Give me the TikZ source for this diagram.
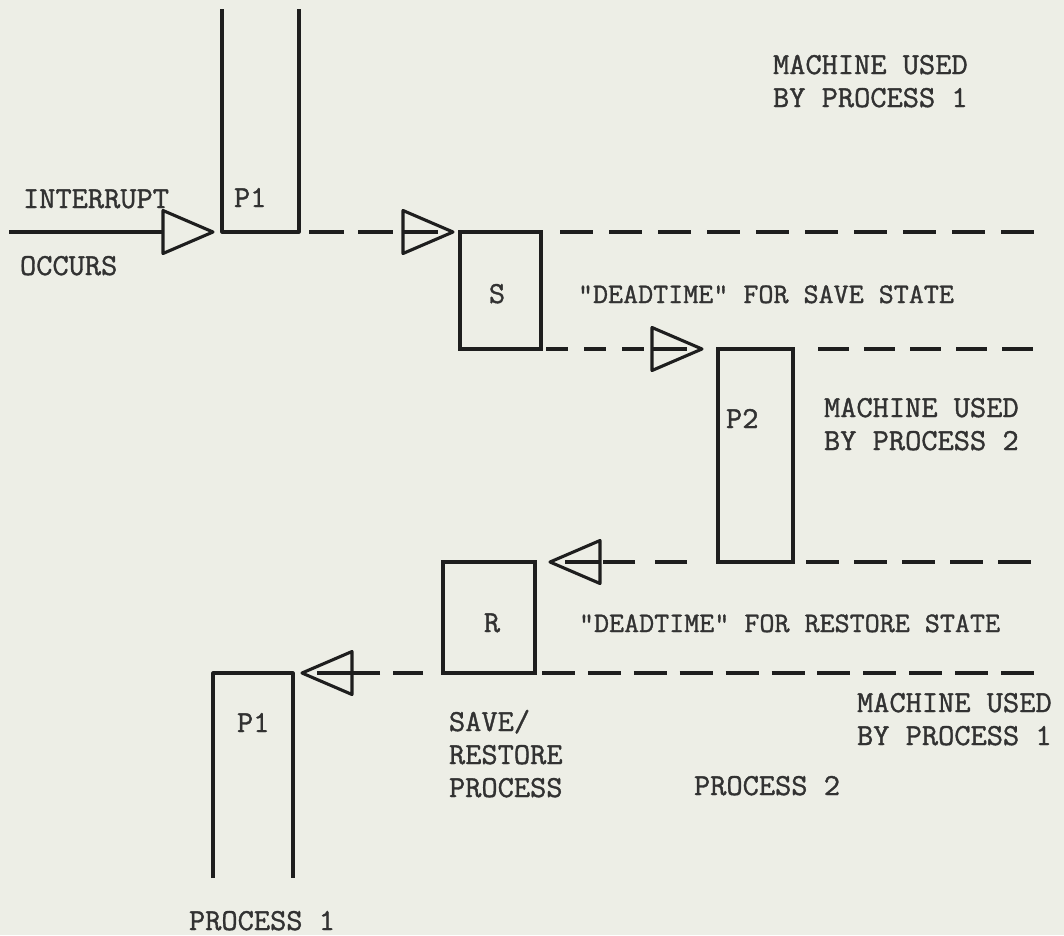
\documentclass[tikz,border=0pt]{standalone}
\usepackage{fontspec}
\usepackage{graphicx}
\newfontfamily\typew[FakeBold=1.2]{Latin Modern Mono}
\definecolor{paper}{RGB}{237,238,230}
\definecolor{ink}{RGB}{30,30,30}
\definecolor{type}{RGB}{50,50,50}
\newcommand\tyt[1]{\scalebox{1}[0.97]{#1}}
\newcommand\twoline[2]{\begin{tabular}[t]{@{}l@{}}\tyt{#1}\\\tyt{#2}\end{tabular}}
\tikzset{
  ln/.style={draw=ink, line width=3.1pt, line join=round},
  box/.style={draw=ink, line width=3.1pt, inner sep=0pt, outer sep=0pt},
  txt/.style={text=type, inner sep=0pt, outer sep=0pt, anchor=base west,
    font=\typew\fontsize{31.5pt}{33pt}\selectfont},
  txtn/.style={txt, font=\typew\fontsize{29.2pt}{33pt}\selectfont},
  tri/.pic={\draw[ln] (0,0) -- (-50,21.5) -- (-50,-21.5) -- cycle;},
  tristub/.pic={\draw[ln] (0,0) -- (-50,21.5) -- (-50,-21.5) -- cycle;
                \draw[ln] (-50,0) -- (-15,0);}
}
\begin{document}
\begin{tikzpicture}[x=1pt,y=-1pt]
\fill[paper] (0,0) rectangle (1064,935);
\useasboundingbox (0,0) rectangle (1064,935);

% open process-1 bars
\coordinate (p1tl) at (222,9);
\coordinate (p1bl) at (222,232);
\coordinate (p1br) at (299,232);
\coordinate (p1tr) at (299,9);
\draw[ln] (p1tl) -- (p1bl) -- (p1br) -- (p1tr);

\coordinate (q1bl) at (213,878);
\coordinate (q1tl) at (213,673);
\coordinate (q1tr) at (293,673);
\coordinate (q1br) at (293,878);
\draw[ln] (q1bl) -- (q1tl) -- (q1tr) -- (q1br);

% closed boxes
\node[box, minimum width=81pt, minimum height=117pt] (S) at (500.5,290.5) {};
\node[box, minimum width=75pt, minimum height=213pt] (P2) at (755.5,455.5) {};
\node[box, minimum width=92pt, minimum height=111pt] (R) at (489,617.5) {};

% interrupt arrow
\coordinate (src) at (9,232);
\coordinate (tA) at ([xshift=-9pt]p1bl);
\draw[ln] (src) -- ([xshift=-50pt]tA);
\pic at (tA) {tri};

% P1 -> S
\coordinate (tB) at ([xshift=-7pt]S.north west);
\draw[ln, dash pattern=on 35pt off 14pt] ([xshift=10pt]p1br) -- ([xshift=-50pt]tB);
\pic at (tB) {tristub};

% S top -> right edge
\coordinate (eC) at (1035,232);
\draw[ln, dash pattern=on 33pt off 16pt] ([xshift=19pt]S.north east) -- (eC);

% S -> P2
\coordinate (tD) at ([xshift=-16pt]P2.north west);
\draw[ln, dash pattern=on 22pt off 16pt] ([xshift=5pt]S.south east) -- ([xshift=-50pt]tD);
\pic at (tD) {tristub};

% P2 top -> right edge
\coordinate (eE) at (1033,349);
\draw[ln, dash pattern=on 31pt off 15pt] ([xshift=25pt]P2.north east) -- (eE);

% P2 -> R
\coordinate (tF) at ([xshift=15pt]R.north east);
\draw[ln, dash pattern=on 32pt off 20pt] ([xshift=-31pt]P2.south west) -- ([xshift=50pt]tF);
\pic[rotate=180] at (tF) {tristub};

% P2 bottom -> right edge
\coordinate (eG) at (1031,562);
\draw[ln, dash pattern=on 33pt off 15pt] ([xshift=13pt]P2.south east) -- (eG);

% R -> P1
\coordinate (tH) at ([xshift=9pt]q1tr);
\draw[ln, dash pattern=on 30pt off 13pt] ([xshift=-20pt]R.south west) -- ([xshift=50pt]tH);
\pic[rotate=180] at (tH) {tristub};

% R bottom -> right edge
\coordinate (eI) at (1034,673);
\draw[ln, dash pattern=on 33pt off 12.9pt] ([xshift=7pt]R.south east) -- (eI);

% texts
\node[txt] (m1) at (773,74) {\twoline{MACHINE USED}{BY PROCESS 1}};
\node[txt] (intr) at (23,208) {\tyt{INTERRUPT}};
\node[txt] (occ) at (20,275) {\tyt{OCCURS}};
\node[txt] (lp1a) at (234,207) {\tyt{P1}};
\node[txt, anchor=base] (lS) at (497,303) {\tyt{S}};
\node[txtn] (dtS) at (578,303) {\tyt{"DEADTIME" FOR SAVE STATE}};
\node[txt] (lP2) at (726,428) {\tyt{P2}};
\node[txt] (m2) at (824,417) {\twoline{MACHINE USED}{BY PROCESS 2}};
\node[txt, anchor=base] (lR) at (492,632) {\tyt{R}};
\node[txtn] (dtR) at (579,632) {\tyt{"DEADTIME" FOR RESTORE STATE}};
\node[txt] (lp1b) at (237,732) {\tyt{P1}};
\node[txt] (sr) at (449,731) {\begin{tabular}[t]{@{}l@{}}\tyt{SAVE/}\\\tyt{RESTORE}\\\tyt{PROCESS}\end{tabular}};
\node[txt] (m3) at (857,712) {\twoline{MACHINE USED}{BY PROCESS 1}};
\node[txt] (pr2) at (694,795) {\tyt{PROCESS 2}};
\node[txt] (pr1) at (189,930) {\tyt{PROCESS 1}};
\end{tikzpicture}
\end{document}
